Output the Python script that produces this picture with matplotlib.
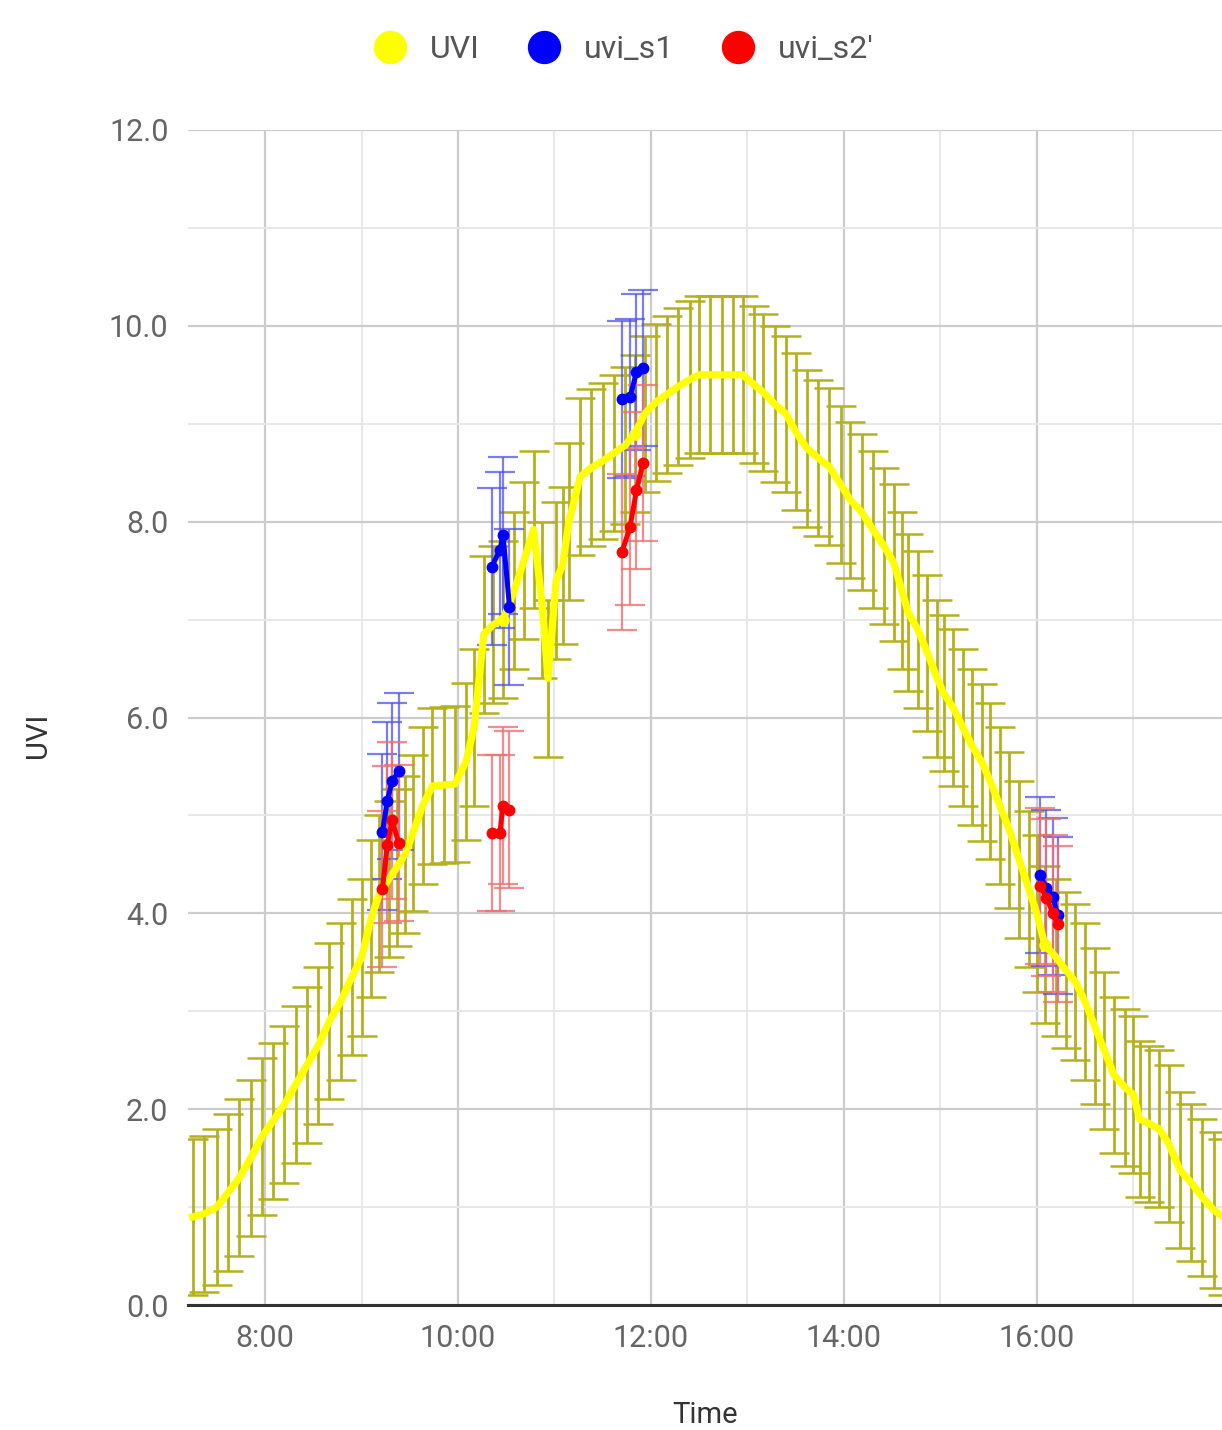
import matplotlib
matplotlib.use("Agg")
import matplotlib.pyplot as plt
from matplotlib.ticker import FixedLocator, FuncFormatter

# UVI series (time, value), error +-0.8
uvi_time = ["7:15", "7:22", "7:30", "7:37", "7:44", "7:51", "7:58", "8:05", "8:12", "8:19",
            "8:26", "8:33", "8:40", "8:47", "8:54", "9:00", "9:06", "9:11", "9:17", "9:22",
            "9:27", "9:32", "9:38", "9:44", "9:51", "9:58", "10:05", "10:10", "10:16", "10:22",
            "10:28", "10:35", "10:41", "10:47", "10:52", "10:56", "11:01", "11:05", "11:09", "11:16",
            "11:23", "11:30", "11:37", "11:44", "11:50", "11:56", "12:03", "12:10", "12:17", "12:24",
            "12:30", "12:37", "12:44", "12:51", "12:57", "13:04", "13:10", "13:17", "13:24", "13:30",
            "13:37", "13:44", "13:51", "13:58", "14:04", "14:11", "14:18", "14:25", "14:31", "14:36",
            "14:40", "14:46", "14:52", "14:58", "15:02", "15:08", "15:14", "15:20", "15:26", "15:31",
            "15:37", "15:43", "15:49", "15:55", "16:00", "16:05", "16:12", "16:18", "16:24", "16:30",
            "16:36", "16:42", "16:48", "16:55", "17:00", "17:04", "17:10", "17:16", "17:22", "17:29",
            "17:36", "17:43", "17:50", "17:56"]
uvi_val = [0.90, 0.93, 1.00, 1.15, 1.30, 1.50, 1.72, 1.88, 2.05, 2.25,
           2.45, 2.65, 2.90, 3.10, 3.35, 3.55, 3.95, 4.20, 4.35, 4.47,
           4.60, 4.82, 5.10, 5.30, 5.31, 5.32, 5.55, 5.90, 6.85, 6.95,
           7.00, 7.30, 7.60, 7.92, 7.20, 6.40, 7.40, 7.55, 8.00, 8.46,
           8.55, 8.62, 8.70, 8.78, 8.90, 9.10, 9.22, 9.30, 9.38, 9.45,
           9.50, 9.50, 9.50, 9.50, 9.50, 9.40, 9.32, 9.20, 9.10, 8.92,
           8.75, 8.65, 8.56, 8.38, 8.22, 8.10, 7.92, 7.75, 7.58, 7.30,
           7.07, 6.90, 6.66, 6.40, 6.25, 6.10, 5.90, 5.70, 5.54, 5.35,
           5.10, 4.85, 4.55, 4.25, 4.00, 3.68, 3.55, 3.42, 3.30, 3.10,
           2.85, 2.60, 2.35, 2.22, 2.15, 1.90, 1.85, 1.80, 1.65, 1.38,
           1.25, 1.10, 0.97, 0.90]
uvi_err = 0.8

# UVI points highlighted with a marker
uvi_mark_time = ["10:28", "11:50", "16:05"]
uvi_mark_val = [7.00, 8.90, 3.68]

# uvi_s1 / uvi_s2' measurement groups
s_time = [["9:13", "9:16", "9:19", "9:23"],
          ["10:21", "10:26", "10:28", "10:32"],
          ["11:42", "11:47", "11:51", "11:55"],
          ["16:02", "16:06", "16:10", "16:13"]]
s1_val = [[4.83, 5.15, 5.35, 5.45],
          [7.54, 7.71, 7.86, 7.13],
          [9.25, 9.27, 9.53, 9.57],
          [4.39, 4.26, 4.17, 3.98]]
s2_val = [[4.25, 4.70, 4.95, 4.72],
          [4.82, 4.82, 5.10, 5.06],
          [7.69, 7.95, 8.32, 8.60],
          [4.28, 4.16, 4.00, 3.89]]
s_err = 0.8

x_ticks = [8, 10, 12, 14, 16]
y_ticks = [0, 2, 4, 6, 8, 10, 12]


def to_hours(t):
    h, m = t.split(":")
    return int(h) + int(m) / 60.0


plt.rcParams['font.family'] = ['Roboto', 'DejaVu Sans']

fig = plt.figure(figsize=(12.22, 14.30), dpi=100)
ax = fig.add_axes([0.1538, 0.0874, 0.8462, 0.8217])

ux = [to_hours(t) for t in uvi_time]
ax.errorbar(ux, uvi_val, yerr=uvi_err, fmt='none', ecolor='#b4b21c',
            elinewidth=2.0, capsize=11, capthick=1.8, zorder=2)

for times, v1, v2 in zip(s_time, s1_val, s2_val):
    tx = [to_hours(t) for t in times]
    ax.errorbar(tx, v1, yerr=s_err, fmt='none', ecolor='#5050f0', alpha=0.75,
                elinewidth=1.6, capsize=11, capthick=1.6, zorder=3)
    ax.errorbar(tx, v2, yerr=s_err, fmt='none', ecolor='#f07070', alpha=0.8,
                elinewidth=1.6, capsize=11, capthick=1.6, zorder=3)

ax.plot(ux, uvi_val, color='#ffff00', lw=5.2, solid_joinstyle='round', zorder=4)
ax.plot([to_hours(t) for t in uvi_mark_time], uvi_mark_val, 'o', color='#ffff00',
        ms=8, zorder=5)

for times, v1, v2 in zip(s_time, s1_val, s2_val):
    tx = [to_hours(t) for t in times]
    ax.plot(tx, v1, '-o', color='#0000ff', lw=3.6, ms=7.5, zorder=6)
    ax.plot(tx, v2, '-o', color='#ff0000', lw=3.6, ms=7.5, zorder=6)

ax.set_xlim(7.2, 17.92)
ax.set_ylim(0, 12)
ax.xaxis.set_major_locator(FixedLocator(x_ticks))
ax.xaxis.set_minor_locator(FixedLocator([9, 11, 13, 15, 17]))
ax.xaxis.set_major_formatter(FuncFormatter(lambda v, p: "%d:00" % v))
ax.yaxis.set_major_locator(FixedLocator(y_ticks))
ax.yaxis.set_minor_locator(FixedLocator([1, 3, 5, 7, 9, 11]))
ax.yaxis.set_major_formatter(FuncFormatter(lambda v, p: "%.1f" % v))

ax.grid(which='major', color='#cccccc', lw=1.6, zorder=0)
ax.grid(which='minor', color='#e8e8e8', lw=1.4, zorder=0)
ax.set_axisbelow(True)
ax.tick_params(which='both', length=0)
ax.tick_params(axis='both', labelsize=22, labelcolor='#666666')
ax.tick_params(axis='x', pad=14)
ax.tick_params(axis='y', pad=14)
for s in ['top', 'right', 'left']:
    ax.spines[s].set_visible(False)
ax.spines['bottom'].set_color('#333333')
ax.spines['bottom'].set_linewidth(2.2)

ax.set_ylabel("UVI", fontsize=21, color='#333333')
ax.yaxis.set_label_coords(-0.131, 0.485)
ax.set_xlabel("Time", fontsize=21, color='#333333', labelpad=34)

handles = [plt.Line2D([], [], ls='none', marker='o', ms=23, color=c) for c in
           ['#ffff00', '#0000ff', '#ff0000']]
fig.legend(handles, ['UVI', 'uvi_s1', "uvi_s2'"], loc='center',
           bbox_to_anchor=(624 / 1222, 1 - 50 / 1430), ncol=3, frameon=False,
           fontsize=23, labelcolor='#555555', handletextpad=0.75,
           columnspacing=1.5, handlelength=1.0)

fig.savefig("out.png", dpi=100)
